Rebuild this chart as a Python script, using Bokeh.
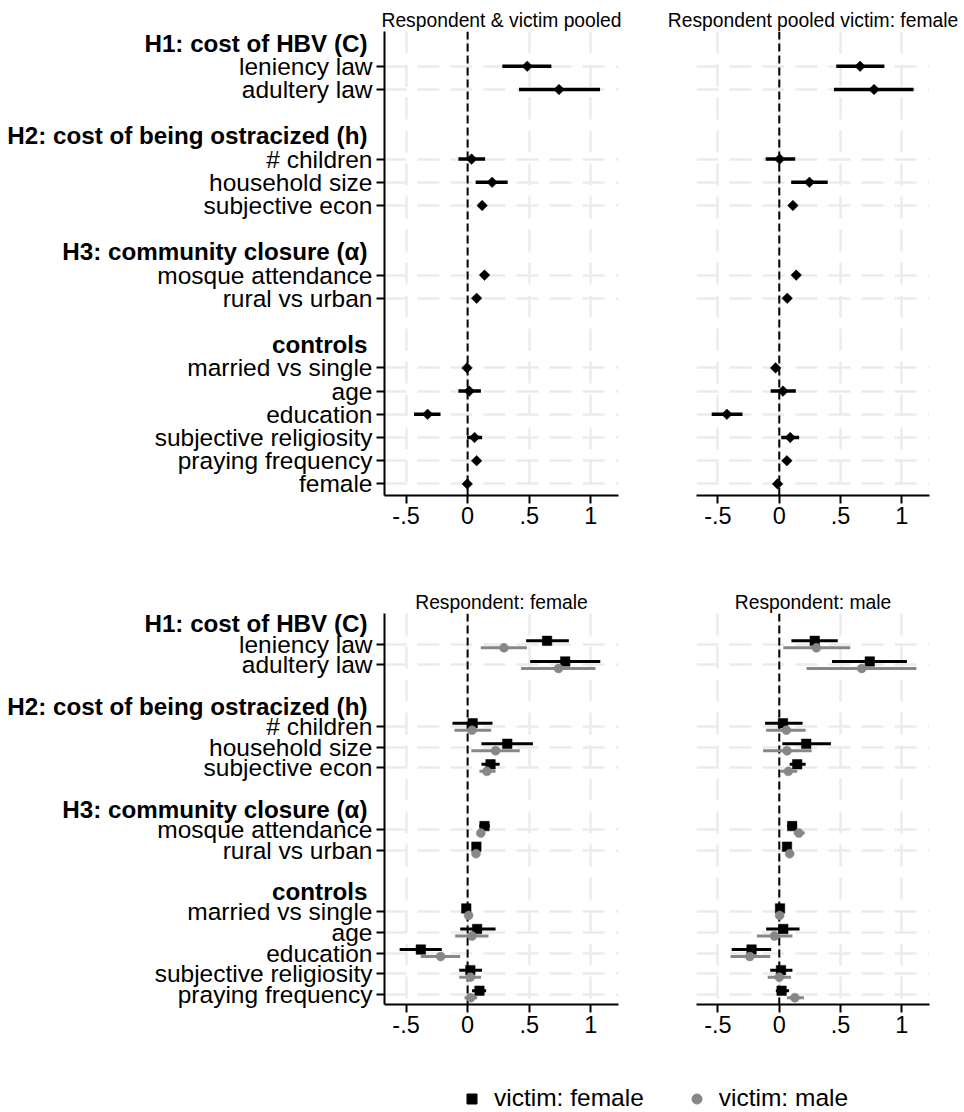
import math
from bokeh.plotting import figure
from bokeh.layouts import column, row
from bokeh.models import (Range1d, FixedTicker, Span, Legend, LegendItem,
                          ColumnDataSource)
from bokeh.core.properties import value
from bokeh.embed import file_html
from bokeh.resources import INLINE

FONT = "Liberation Sans"
BLACK = "#000000"
GRAY = "#878787"
GRID = "#ebebeb"

# ---------------- categories ----------------
headers = ["H1: cost of HBV (C)", "H2: cost of being ostracized (h)",
           "H3: community closure (\u03b1)", "controls"]
h1_vars = ["leniency law", "adultery law"]
h2_vars = ["# children", "household size", "subjective econ"]
h3_vars = ["mosque attendance", "rural vs urban"]
controls_top = ["married vs single", "age", "education", "subjective religiosity",
                "praying frequency", "female"]
controls_bottom = ["married vs single", "age", "education", "subjective religiosity",
                   "praying frequency"]

x_ticks = [-0.5, 0, 0.5, 1]
x_tick_labels = ["-.5", "0", ".5", "1"]

# ---------------- series values (estimate, lower, upper) ----------------
# Respondent & victim pooled
pooled_est = [0.484, 0.742, 0.032, 0.199, 0.118, 0.137, 0.073, -0.005, 0.013, -0.325, 0.056, 0.073, -0.003]
pooled_lo  = [0.282, 0.417, -0.075, 0.065, 0.088, 0.107, 0.045, -0.030, -0.075, -0.435, -0.005, 0.045, -0.028]
pooled_hi  = [0.680, 1.075, 0.142, 0.325, 0.148, 0.167, 0.101, 0.020, 0.108, -0.220, 0.118, 0.101, 0.022]

# Respondent pooled, victim female
pvf_est = [0.659, 0.773, 0.003, 0.246, 0.111, 0.138, 0.065, -0.030, 0.030, -0.427, 0.089, 0.062, -0.014]
pvf_lo  = [0.465, 0.446, -0.111, 0.097, 0.081, 0.108, 0.037, -0.055, -0.070, -0.551, 0.016, 0.034, -0.040]
pvf_hi  = [0.857, 1.095, 0.130, 0.395, 0.141, 0.168, 0.093, -0.005, 0.135, -0.300, 0.162, 0.090, 0.012]

# Respondent female: victim female / victim male
rf_vf_est = [0.645, 0.792, 0.041, 0.322, 0.186, 0.137, 0.071, -0.011, 0.077, -0.380, 0.022, 0.096]
rf_vf_lo  = [0.475, 0.508, -0.123, 0.112, 0.112, 0.095, 0.045, -0.035, -0.060, -0.552, -0.068, 0.036]
rf_vf_hi  = [0.822, 1.077, 0.202, 0.530, 0.260, 0.180, 0.097, 0.013, 0.227, -0.210, 0.117, 0.150]
rf_vm_est = [0.295, 0.738, 0.036, 0.227, 0.156, 0.107, 0.068, 0.008, 0.036, -0.219, 0.022, 0.025]
rf_vm_lo  = [0.107, 0.434, -0.107, 0.030, 0.096, 0.080, 0.042, -0.015, -0.101, -0.380, -0.068, -0.025]
rf_vm_hi  = [0.481, 1.038, 0.191, 0.423, 0.227, 0.134, 0.094, 0.031, 0.169, -0.060, 0.109, 0.077]

# Respondent male: victim female / victim male
rm_vf_est = [0.289, 0.738, 0.030, 0.220, 0.146, 0.105, 0.063, 0.006, 0.033, -0.226, 0.014, 0.019]
rm_vf_lo  = [0.099, 0.430, -0.116, 0.025, 0.085, 0.065, 0.037, -0.018, -0.107, -0.388, -0.074, -0.028]
rm_vf_hi  = [0.477, 1.041, 0.190, 0.421, 0.215, 0.145, 0.089, 0.030, 0.165, -0.066, 0.107, 0.080]
rm_vm_est = [0.303, 0.672, 0.058, 0.063, 0.074, 0.160, 0.085, 0.003, -0.039, -0.240, 0.000, 0.127]
rm_vm_lo  = [0.033, 0.223, -0.107, -0.132, 0.008, 0.118, 0.060, -0.020, -0.182, -0.397, -0.094, 0.063]
rm_vm_hi  = [0.579, 1.118, 0.215, 0.264, 0.146, 0.207, 0.110, 0.026, 0.107, -0.074, 0.096, 0.201]

XMIN, XMAX = -0.675, 1.225
TICK_PX = "23.5px"
LABEL_PX = "24.5px"
HEADER_PX = "24.2px"
LABEL_W = 376          # width of the category-label column (px)
HDR_RIGHT = 367        # right edge of bold group headers
VAR_RIGHT = 372        # right edge of variable labels


def slots(groups):
    pos = 0
    hpos, rpos, rlab = [], [], []
    for i, items in enumerate(groups):
        if i > 0:
            pos += 1
        hpos.append(pos)
        pos += 1
        for it in items:
            rpos.append(pos)
            rlab.append(it)
            pos += 1
    return hpos, rpos, rlab, pos


def label_column(groups, height, mbt, mbb):
    hpos, rpos, rlab, n = slots(groups)
    spp = (height - mbt - mbb) / n          # pixels per slot in the plot panels
    # same slot->pixel mapping as the panels, but with the frame spanning the full height
    yr = Range1d(n - 0.5 + mbb / spp, -0.5 - mbt / spp)
    p = figure(width=LABEL_W, height=height, output_backend="svg", toolbar_location=None,
               x_range=Range1d(0, LABEL_W), y_range=yr,
               x_axis_location=None, y_axis_location=None, min_border=0,
               frame_align=False)
    p.outline_line_color = None
    p.xgrid.visible = False
    p.ygrid.visible = False
    p.text(x=[HDR_RIGHT] * len(hpos), y=hpos, text=headers, text_align="right",
           text_baseline="middle", text_font=value(FONT), text_font_size=HEADER_PX,
           text_font_style="bold", text_color=BLACK)
    p.text(x=[VAR_RIGHT] * len(rpos), y=rpos, text=rlab, text_align="right",
           text_baseline="middle", text_font=value(FONT), text_font_size=LABEL_PX,
           text_color=BLACK)
    return p


def panel(title, groups, series, left, width, height, mbl, mbr, mbt, mbb):
    hpos, rpos, rlab, n = slots(groups)
    p = figure(width=width, height=height, output_backend="svg", toolbar_location=None,
               x_range=Range1d(XMIN, XMAX), y_range=Range1d(n - 0.5, -0.5),
               y_axis_location="left" if left else None,
               min_border_left=mbl, min_border_right=mbr,
               min_border_top=mbt, min_border_bottom=mbb, title=title)
    p.outline_line_color = None
    p.background_fill_color = "white"
    p.title.text_font = FONT
    p.title.text_font_size = "19.3px"
    p.title.text_font_style = "normal"
    p.title.text_color = BLACK
    p.title.align = "center"
    p.title.standoff = 2

    p.xgrid.ticker = FixedTicker(ticks=x_ticks)
    p.ygrid.ticker = FixedTicker(ticks=rpos)
    for g in (p.xgrid, p.ygrid):
        g.grid_line_color = GRID
        g.grid_line_width = 2.5
        g.grid_line_dash = "22 11"

    xa = p.xaxis[0]
    xa.ticker = FixedTicker(ticks=x_ticks)
    xa.major_label_overrides = {t: l for t, l in zip(x_ticks, x_tick_labels)}
    xa.minor_tick_line_color = None
    xa.major_tick_in = 0
    xa.major_tick_out = 8
    xa.major_tick_line_width = 2
    xa.axis_line_width = 2
    xa.major_label_standoff = 3
    xa.major_label_text_font = FONT
    xa.major_label_text_font_size = TICK_PX
    xa.major_label_text_color = BLACK

    if left:
        ya = p.yaxis[0]
        ya.ticker = FixedTicker(ticks=rpos)
        ya.major_label_overrides = {t: "" for t in rpos}
        ya.major_label_text_font_size = "0px"
        ya.major_label_standoff = 0
        ya.minor_tick_line_color = None
        ya.major_tick_in = 0
        ya.major_tick_out = 8
        ya.major_tick_line_width = 2
        ya.axis_line_width = 2

    p.add_layout(Span(location=0, dimension="height", line_color=BLACK,
                      line_width=2, line_dash="8 4", level="underlay"))

    for est, lo, hi, off, color, marker, size, angle, lw in series:
        ys = [y + off for y in rpos[:len(est)]]
        src = ColumnDataSource(dict(y=ys, est=est, lo=lo, hi=hi))
        p.segment(x0="lo", x1="hi", y0="y", y1="y", source=src, line_color=color,
                  line_width=lw)
        p.scatter(x="est", y="y", source=src, marker=marker, size=size, angle=angle,
                  fill_color=color, line_color=color, line_width=0.5)
    return p


groups_top = [h1_vars, h2_vars, h3_vars, controls_top]
groups_bot = [h1_vars, h2_vars, h3_vars, controls_bottom]

D = math.pi / 4
TOP_H, TOP_T, TOP_B = 570, 31, 75
BOT_H, BOT_T, BOT_B = 480, 43, 46

l1 = label_column(groups_top, TOP_H, TOP_T, TOP_B)
p1 = panel("Respondent & victim pooled", groups_top,
           [(pooled_est, pooled_lo, pooled_hi, 0, BLACK, "square", 7.5, D, 3.5)],
           True, 264, TOP_H, 8, 22, TOP_T, TOP_B)
p2 = panel("Respondent pooled victim: female", groups_top,
           [(pvf_est, pvf_lo, pvf_hi, 0, BLACK, "square", 7.5, D, 3.5)],
           False, 324, TOP_H, 56, 35, TOP_T, TOP_B)
l3 = label_column(groups_bot, BOT_H, BOT_T, BOT_B)
p3 = panel("Respondent: female", groups_bot,
           [(rf_vf_est, rf_vf_lo, rf_vf_hi, -0.17, BLACK, "square", 9.5, 0, 3),
            (rf_vm_est, rf_vm_lo, rf_vm_hi, 0.17, GRAY, "circle", 9, 0, 3)],
           True, 264, BOT_H, 8, 22, BOT_T, BOT_B)
p4 = panel("Respondent: male", groups_bot,
           [(rm_vf_est, rm_vf_lo, rm_vf_hi, -0.17, BLACK, "square", 9.5, 0, 3),
            (rm_vm_est, rm_vm_lo, rm_vm_hi, 0.17, GRAY, "circle", 9, 0, 3)],
           False, 324, BOT_H, 56, 35, BOT_T, BOT_B)

# legend strip
lf = figure(width=964, height=62, output_backend="svg", toolbar_location=None,
            x_axis_location=None, y_axis_location=None, min_border=0,
            x_range=Range1d(0, 1), y_range=Range1d(0, 1), frame_align=False)
lf.outline_line_color = None
lf.xgrid.visible = False
lf.ygrid.visible = False
r1 = lf.scatter(x=[-10], y=[-10], marker="square", size=10, color=BLACK)
r2 = lf.scatter(x=[-10], y=[-10], marker="circle", size=10, color=GRAY)
leg = Legend(items=[LegendItem(label="victim: female", renderers=[r1]),
                    LegendItem(label="victim: male", renderers=[r2])],
             orientation="horizontal", location=(459, 0),
             border_line_color=None, background_fill_alpha=0,
             label_text_font=FONT, label_text_font_size="24.5px",
             label_text_color=BLACK,
             glyph_width=25, glyph_height=25, label_standoff=10, spacing=40,
             padding=0, margin=0)
lf.add_layout(leg)

layout = column(row(l1, p1, p2), row(l3, p3, p4), lf)
open("out.html", "w").write(file_html(layout, INLINE))
